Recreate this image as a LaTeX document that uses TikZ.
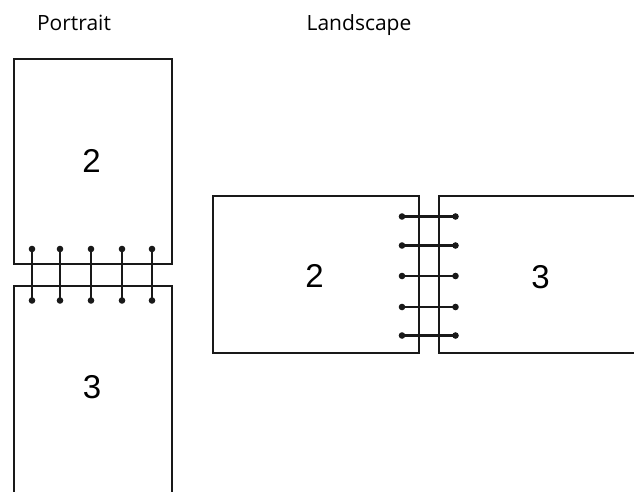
\documentclass[tikz,border=0pt]{standalone}
\usepackage{fontspec}
\setmainfont{Open Sans}
\newfontfamily\numfont{Liberation Sans}

\begin{document}
\begin{tikzpicture}[x=1pt, y=-1pt, line cap=butt, line join=miter,
  page/.style={line width=2pt, black!90},
  ring/.style={line width=2.5pt, black!90},
  hole/.style={fill=black!90},
  title/.style={anchor=base, font=\fontsize{21}{25}\selectfont},
  pagenum/.style={anchor=base, font=\numfont\fontsize{33}{38}\selectfont}]
  \useasboundingbox (0,0) rectangle (634,491);
  % titles
  \node[title] (ptitle) at (74,30) {Portrait};
  \node[title] (ltitle) at (359,30) {Landscape};
  % portrait pages
  \draw[page] (13.5,59) rectangle (172.3,264);
  \draw[page] (13.5,492) -- (13.5,286) -- (172.3,286) -- (172.3,492);
  \node[pagenum] (p2) at (91.5,172) {2};
  \node[pagenum] (p3) at (92,398) {3};
  \foreach \x [count=\i] in {32,60,91,122,152} {
    \coordinate (pa\i) at (\x,249);
    \coordinate (pb\i) at (\x,300.5);
    \draw[ring] (pa\i) -- (pb\i);
    \fill[hole] (pa\i) circle (3.3pt) (pb\i) circle (3.3pt);
  }
  % landscape pages
  \draw[page] (212.5,196) rectangle (418.7,353);
  \draw[page] (635,196) -- (439,196) -- (439,353) -- (635,353);
  \node[pagenum] (l2) at (314.5,287.5) {2};
  \node[pagenum] (l3) at (540.5,288) {3};
  \foreach \y [count=\i] in {216.5,245.5,276,307,335.5} {
    \coordinate (la\i) at (402,\y);
    \coordinate (lb\i) at (455.5,\y);
    \draw[ring] (la\i) -- (lb\i);
    \fill[hole] (la\i) circle (3.3pt) (lb\i) circle (3.3pt);
  }
\end{tikzpicture}
\end{document}
